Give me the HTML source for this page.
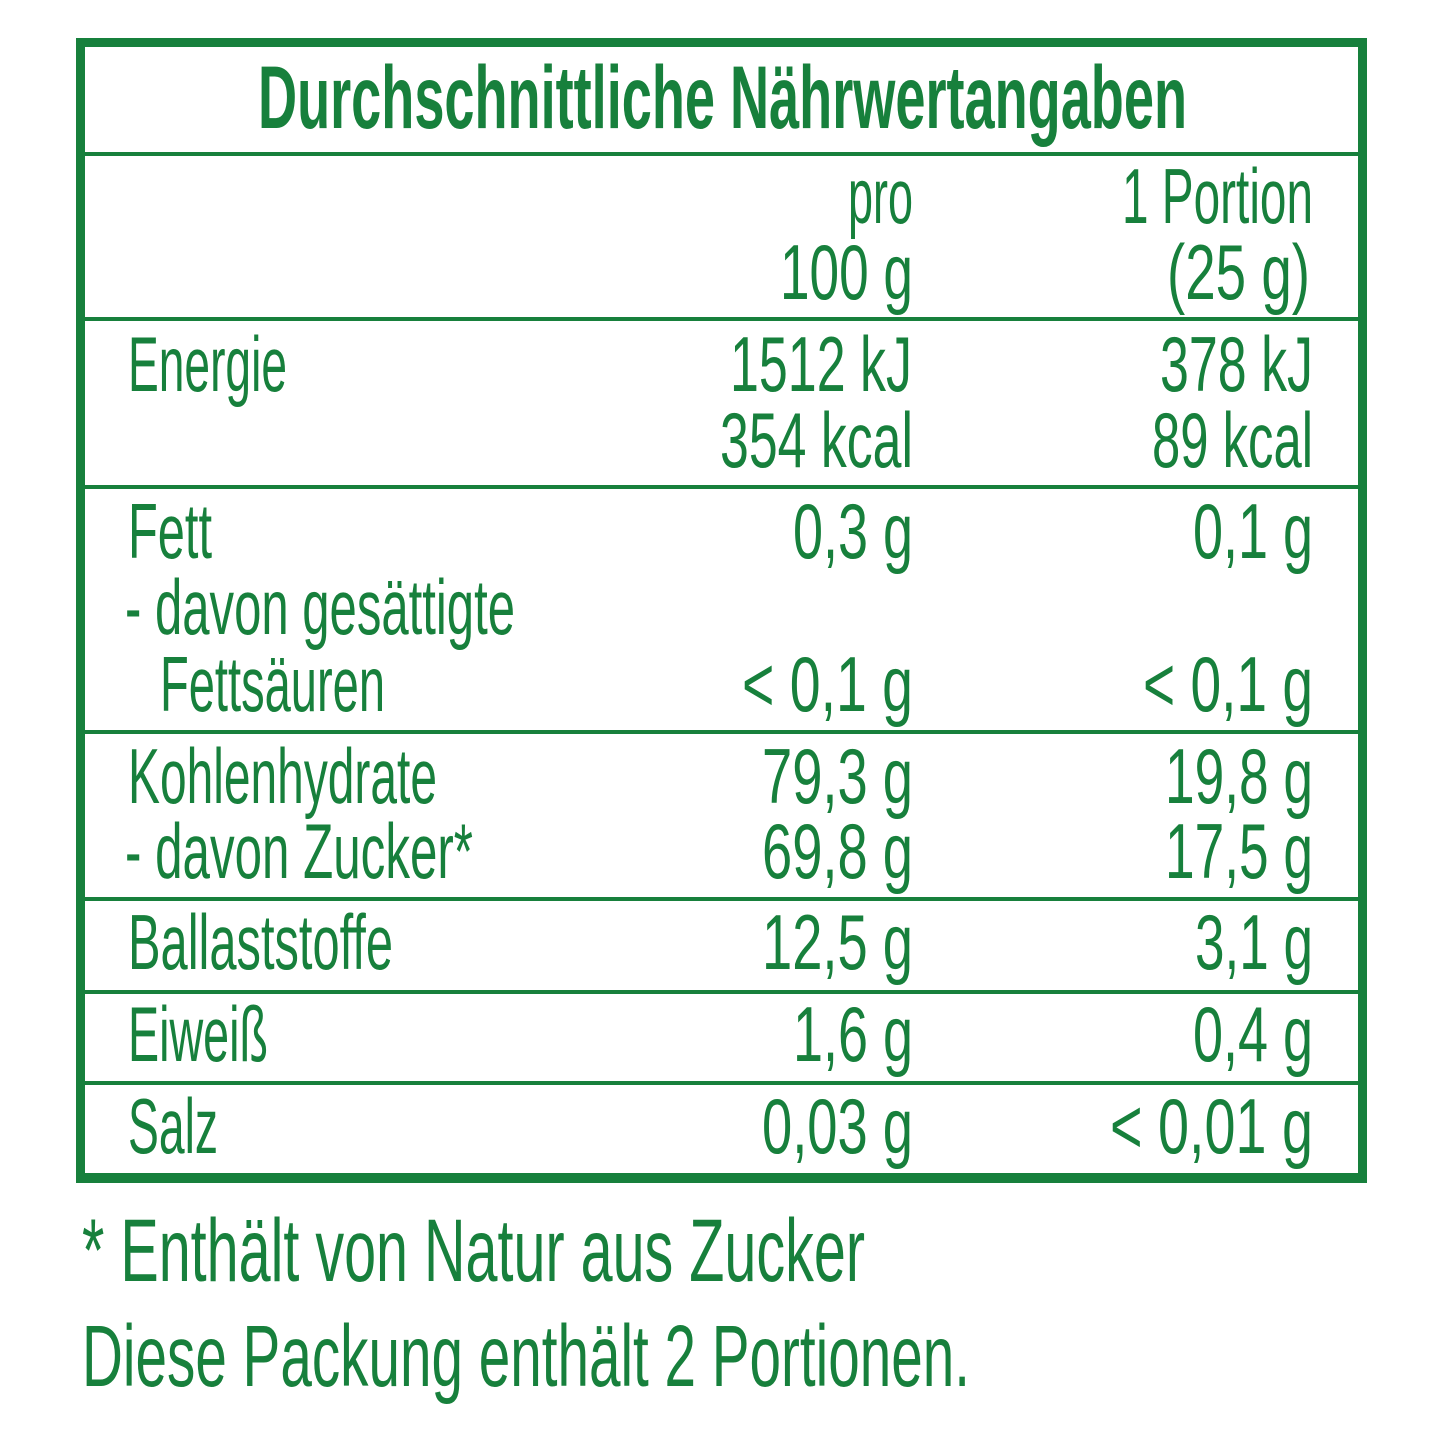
<!DOCTYPE html>
<html><head><meta charset="utf-8"><style>
html,body{margin:0;padding:0;background:#fff;width:1445px;height:1445px;overflow:hidden;position:relative}
.t{position:absolute;white-space:nowrap;line-height:1;color:#17803c;font-family:"Liberation Sans",sans-serif;transform-origin:0 0}
.b{position:absolute;background:#17803c}
</style></head><body>
<div class="b" style="left:76px;top:38px;width:1291px;height:9px"></div>
<div class="b" style="left:76px;top:1173px;width:1291px;height:10px"></div>
<div class="b" style="left:76px;top:38px;width:9px;height:1145px"></div>
<div class="b" style="left:1358px;top:38px;width:9px;height:1145px"></div>
<div class="b" style="left:80px;top:152px;width:1283px;height:4px"></div>
<div class="b" style="left:80px;top:317px;width:1283px;height:4px"></div>
<div class="b" style="left:80px;top:485px;width:1283px;height:4px"></div>
<div class="b" style="left:80px;top:730px;width:1283px;height:4px"></div>
<div class="b" style="left:80px;top:897px;width:1283px;height:4px"></div>
<div class="b" style="left:80px;top:990px;width:1283px;height:4px"></div>
<div class="b" style="left:80px;top:1081px;width:1283px;height:4px"></div>
<div id="c"></div>
<script>
var items=[
["Durchschnittliche Nährwertangaben",258,1187,127,89,1],
["pro",848,913,222,78],["100 g",780,913,298,78],
["1 Portion",1122,1313,222,78],["(25 g)",1167,1310,298,78],
["Energie",128,287,390,78],["1512 kJ",730,912,390,78],["378 kJ",1160,1313,390,78],
["354 kcal",720,913,466,78],["89 kcal",1152,1313,466,78],
["Fett",128,212,557,78],["0,3 g",793,913,557,78],["0,1 g",1193,1313,557,78],
["- davon gesättigte",125,515,633,78],["Fettsäuren",160,385,710,78],
["< 0,1 g",742,913,710,78],["< 0,1 g",1143,1313,710,78],
["Kohlenhydrate",128,437,802,78],["79,3 g",762,913,802,78],["19,8 g",1165,1313,802,78],
["- davon Zucker*",125,473,877,78],["69,8 g",762,913,877,78],["17,5 g",1165,1313,877,78],
["Ballaststoffe",128,393,968,78],["12,5 g",762,913,968,78],["3,1 g",1195,1313,968,78],
["Eiweiß",128,268,1060,78],["1,6 g",793,913,1060,78],["0,4 g",1193,1313,1060,78],
["Salz",128,218,1152,78],["0,03 g",762,913,1152,78],["< 0,01 g",1110,1313,1152,78],
["* Enthält von Natur aus Zucker",82,865,1280,89],
["Diese Packung enthält 2 Portionen.",82,970,1385,87]
];
var c=document.getElementById('c');
items.forEach(function(it){
 var d=document.createElement('div');d.className='t';d.textContent=it[0];
 d.style.fontSize=it[4]+'px';if(it[5])d.style.fontWeight='bold';
 d.style.left=it[1]+'px';d.style.top=(it[3]-0.83*it[4])+'px';
 c.appendChild(d);
 var w=d.getBoundingClientRect().width;
 d.style.transform='scaleX('+((it[2]-it[1])/w)+')';
});
</script>
</body></html>
